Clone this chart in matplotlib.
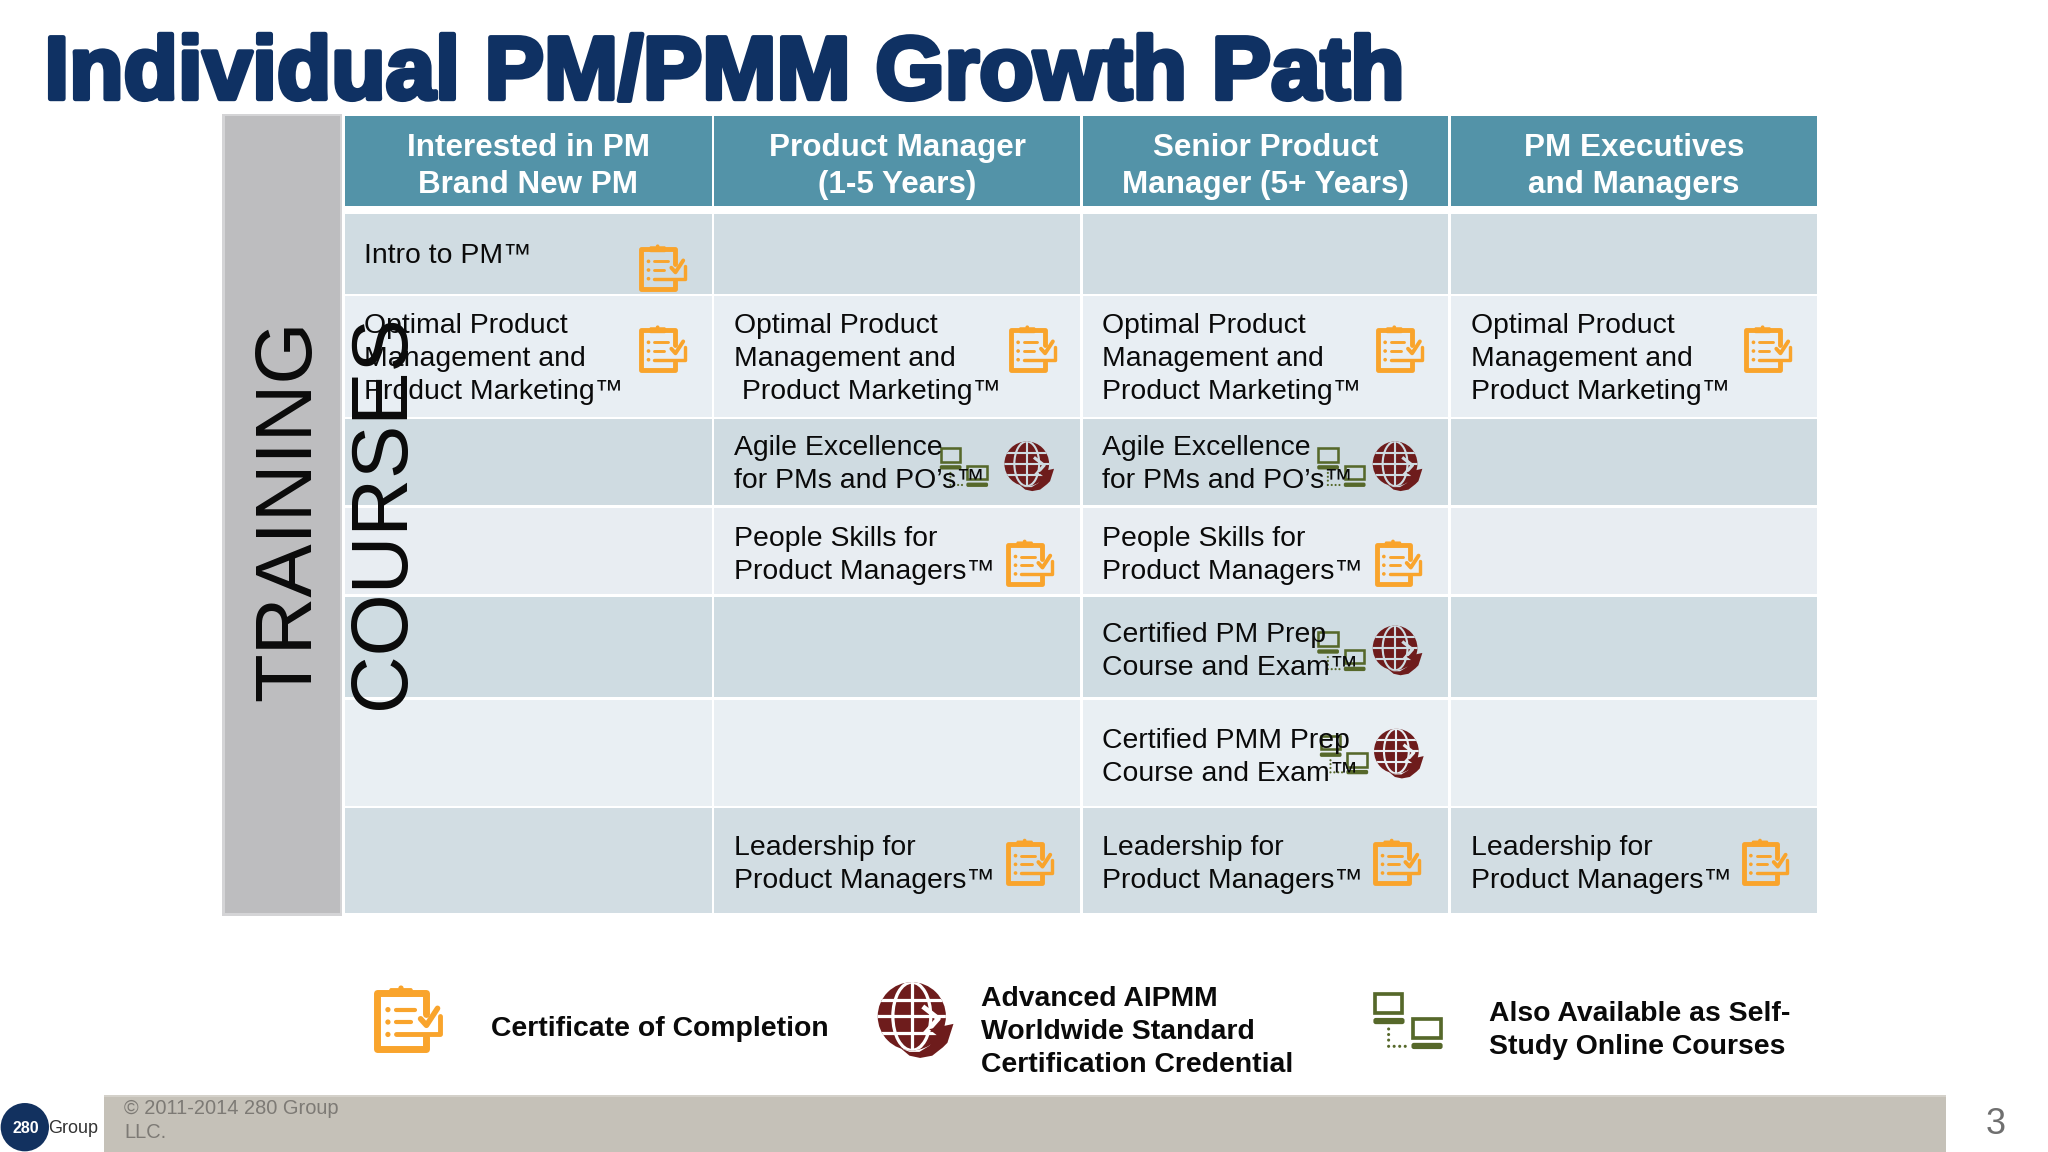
import numpy as np
import matplotlib
matplotlib.use("Agg")
import matplotlib.pyplot as plt
import matplotlib.patheffects as pe
from matplotlib.patches import Rectangle, FancyBboxPatch, Circle, Ellipse, Polygon

plt.rcParams['font.family'] = ['Liberation Sans', 'DejaVu Sans']

TITLE = "Individual PM/PMM Growth Path"
SIDE_LINES = ["TRAINING", "COURSES"]
HEADERS = ["Interested in PM\nBrand New PM", "Product Manager\n(1-5 Years)",
           "Senior Product\nManager (5+ Years)", "PM Executives\nand Managers"]
OPT = "Optimal Product\nManagement and\nProduct Marketing™"
OPT2 = "Optimal Product\nManagement and\n Product Marketing™"
AGILE = "Agile Excellence\nfor PMs and PO’s™"
PEOPLE = "People Skills for\nProduct Managers™"
CPM = "Certified PM Prep\nCourse and Exam™"
CPMM = "Certified PMM Prep\nCourse and Exam™"
LEAD = "Leadership for\nProduct Managers™"
ROW0 = ["Intro to PM™", "", "", ""]
ROW1 = [OPT, OPT2, OPT, OPT]
ROW2 = ["", AGILE, AGILE, ""]
ROW3 = ["", PEOPLE, PEOPLE, ""]
ROW4 = ["", "", CPM, ""]
ROW5 = ["", "", CPMM, ""]
ROW6 = ["", LEAD, LEAD, LEAD]
ROWS = [ROW0, ROW1, ROW2, ROW3, ROW4, ROW5, ROW6]
LEGEND_TEXT = ["Certificate of Completion",
               "Advanced AIPMM\nWorldwide Standard\nCertification Credential",
               "Also Available as Self-\nStudy Online Courses"]
FOOTER = "© 2011-2014 280 Group\nLLC."
PAGE = "3"

# layout in the 1568 x 882 frame
COL_X = [(264, 545), (547, 827), (829, 1109), (1111, 1391)]
ROW_Y = [(164, 225), (227, 319), (321, 387), (389, 455), (457, 534), (536, 617), (619, 699)]
ROW_BG = ["#d0dce2", "#e8eef3", "#cfdbe1", "#e8edf2", "#cfdce2", "#e9eff3", "#d2dde3"]
TEXT_Y = [196, 275, 356, 425, 499, 580, 662]
CLIP = [(507, 205), (507, 267), (790, 267), (1071, 267), (1353, 267), (788, 431), (1070, 431),
        (788, 660), (1069, 660), (1351, 660)]
GLOBE = [(788, 357), (1070, 357), (1070, 498), (1071, 577)]
COMP = [(738, 358), (1027, 358), (1027, 499), (1029, 578)]

ORANGE, RED, GREEN = "#f9a42c", "#6e1c1c", "#56682a"

fig = plt.figure(figsize=(20.48, 11.52), dpi=100, facecolor="white")
ax = fig.add_axes([0, 0, 1, 1])
ax.set_xlim(0, 1568)
ax.set_ylim(882, 0)
ax.axis("off")


def rect(x0, y0, x1, y1, color, z=1, **kw):
    ax.add_patch(Rectangle((x0, y0), x1 - x0, y1 - y0, fc=color, ec="none", zorder=z, **kw))


def clipboard(cx, cy, s):
    x0, y0 = cx - s / 2, cy - s / 2
    P = lambda u, v: (x0 + u * s, y0 + v * s)
    lw = s * 0.1

    def line(pts, w=lw):
        xy = np.array([P(*p) for p in pts])
        ax.plot(xy[:, 0], xy[:, 1], color=ORANGE, lw=w, solid_capstyle="round",
                solid_joinstyle="round", zorder=5)
    line([(0.78, 0.42), (0.78, 0.1), (0.04, 0.1), (0.04, 0.96), (0.78, 0.96), (0.78, 0.78)])
    tx, ty = P(0.22, 0.03)
    ax.add_patch(FancyBboxPatch((tx, ty), 0.36 * s, 0.13 * s,
                                boxstyle=f"round,pad=0,rounding_size={0.03 * s}",
                                fc=ORANGE, ec="none", zorder=5))
    ax.add_patch(Circle(P(0.4, 0.03), 0.04 * s, fc=ORANGE, ec="none", zorder=5))
    for v in (0.36, 0.55, 0.74):
        ax.add_patch(Circle(P(0.2, v), 0.04 * s, fc=ORANGE, ec="none", zorder=5))
    line([(0.33, 0.36), (0.62, 0.36)], lw * 0.6)
    line([(0.33, 0.55), (0.55, 0.55)], lw * 0.6)
    line([(0.33, 0.74), (1.0, 0.74), (1.0, 0.46)], lw * 0.7)
    line([(0.7, 0.5), (0.79, 0.6), (0.96, 0.34)], lw * 0.8)


def globe(cx, cy, s, bg):
    x0, y0 = cx - s / 2, cy - s / 2
    P = lambda u, v: (x0 + u * s, y0 + v * s)
    c = P(0.45, 0.45)
    clip = Circle(c, 0.45 * s, fc=RED, ec="none", zorder=5)
    ax.add_patch(clip)
    w = s * 0.04
    for v in (0.23, 0.45, 0.67):
        a, b = P(0, v), P(1, v)
        ln, = ax.plot([a[0], b[0]], [a[1], b[1]], color=bg, lw=w, zorder=6)
        ln.set_clip_path(clip)
    a, b = P(0.45, 0), P(0.45, 1)
    ln, = ax.plot([a[0], b[0]], [a[1], b[1]], color=bg, lw=w, zorder=6)
    ln.set_clip_path(clip)
    e = Ellipse(c, 0.5 * s, 0.9 * s, fc="none", ec=bg, lw=w, zorder=6)
    ax.add_patch(e)
    e.set_clip_path(clip)
    gap = np.array([P(0.62, 0.34), P(0.8, 0.48), P(0.64, 0.66)])
    ax.plot(gap[:, 0], gap[:, 1], color=bg, lw=s * 0.06, zorder=7, solid_joinstyle="round")
    ax.add_patch(Polygon([P(0.3, 0.87), P(0.42, 0.97), P(0.56, 1.0), P(0.72, 0.97), P(0.86, 0.86),
                          P(0.92, 0.8), P(1.0, 0.55), P(0.68, 0.62), P(0.78, 0.7), P(0.68, 0.84),
                          P(0.55, 0.92), P(0.42, 0.92)],
                         closed=True, fc=RED, ec="none", zorder=8))


def computers(cx, cy, w):
    h = 0.82 * w
    x0, y0 = cx - w / 2, cy - h / 2
    P = lambda u, v: (x0 + u * w, y0 + v * w)
    lw = w * 0.05
    for (u0, v0) in ((0.01, 0.0), (0.56, 0.36)):
        ax.add_patch(Rectangle(P(u0 + 0.01, v0 + 0.01), 0.4 * w, 0.28 * w, fc="none", ec=GREEN, lw=lw, zorder=5))
        ax.add_patch(FancyBboxPatch(P(u0 - 0.01, v0 + 0.36), 0.45 * w, 0.09 * w,
                                    boxstyle=f"round,pad=0,rounding_size={0.035 * w}",
                                    fc=GREEN, ec="none", zorder=5))
    for (u, v) in [(0.22, 0.52), (0.22, 0.6), (0.22, 0.68), (0.22, 0.77), (0.3, 0.77), (0.38, 0.77), (0.46, 0.77)]:
        ax.add_patch(Circle(P(u, v), 0.022 * w, fc=GREEN, ec="none", zorder=5))


# title
ax.text(34, 58, TITLE, fontsize=64.1, fontweight="bold", color="#0f3163", ha="left", va="center",
        path_effects=[pe.withStroke(linewidth=3.5, foreground="#0f3163")], zorder=3)

# side panel
rect(170, 87, 262, 701, "#d4d4d6")
rect(172, 89, 260, 699, "#bdbdbf", z=2)

# headers
for (x0, x1), label in zip(COL_X, HEADERS):
    rect(x0, 89, x1, 158, "#5393a8")
    ax.text((x0 + x1) / 2, 127.5, label, color="white", fontsize=22.6, fontweight="bold",
            ha="center", va="center", linespacing=1.32, zorder=6)

# body cells
for r, (y0, y1) in enumerate(ROW_Y):
    for c, (x0, x1) in enumerate(COL_X):
        rect(x0, y0, x1, y1, ROW_BG[r])
        if ROWS[r][c]:
            ax.text(x0 + 15, TEXT_Y[r], ROWS[r][c], color="#0a0a0a", fontsize=20.4, ha="left",
                    va="center", linespacing=1.35, zorder=9)

for x, y in CLIP:
    clipboard(x, y, 35)
for (x, y), bg in zip(GLOBE, ["#cfdbe1", "#cfdbe1", "#cfdce2", "#e9eff3"]):
    globe(x, y, 38, bg)
for x, y in COMP:
    computers(x, y, 37)

# rotated side text
ax.text(222, 391, SIDE_LINES[0], rotation=90, fontsize=57.5, color="#0a0a0a", ha="center", va="center", zorder=10)
ax.text(294, 392, SIDE_LINES[1], rotation=90, fontsize=57.5, color="#0a0a0a", ha="center", va="center", zorder=10)

# legend
clipboard(312, 780, 50)
globe(701, 781, 58, "white")
computers(1078, 782, 53)
ax.text(376, 788, LEGEND_TEXT[0], fontsize=20.4, fontweight="bold", color="#0a0a0a", ha="left", va="center")
ax.text(751, 790, LEGEND_TEXT[1], fontsize=20.4, fontweight="bold", color="#0a0a0a", ha="left", va="center", linespacing=1.35)
ax.text(1140, 789, LEGEND_TEXT[2], fontsize=20.4, fontweight="bold", color="#0a0a0a", ha="left", va="center", linespacing=1.35)

# footer
rect(80, 839, 1490, 882, "#c5c1b8")
rect(80, 838, 1490, 840, "#d4d1ca", z=2)
ax.text(95, 858, FOOTER, fontsize=14.4, color="#7d7a75", ha="left", va="center", linespacing=1.35, zorder=3)
ax.text(1528, 861, PAGE, fontsize=26, color="#6f6f6f", ha="center", va="center")
ax.add_patch(Ellipse((19, 863), 37, 37, fc="#12315f", ec="none", zorder=3))
ax.text(20, 864, "280", fontsize=11.5, color="white", ha="center", va="center", zorder=4, fontweight="bold")
ax.text(56, 864, "Group", fontsize=13, color="#333333", ha="center", va="center", zorder=4)

fig.savefig("out.png", dpi=100, facecolor="white")
